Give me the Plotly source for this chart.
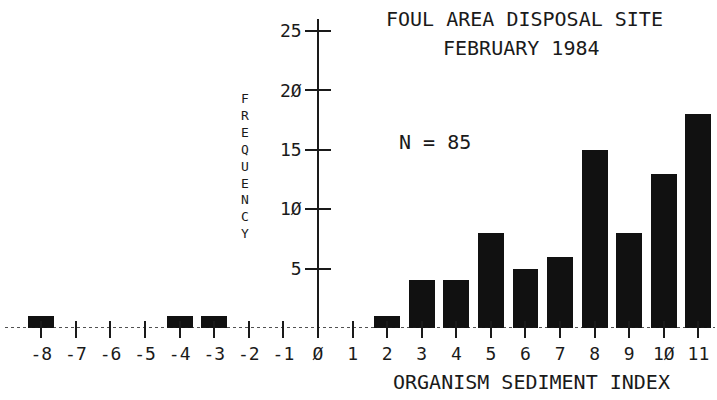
import plotly.graph_objects as go

# ---- data ----
index_values = [-8, -4, -3, 2, 3, 4, 5, 6, 7, 8, 9, 10, 11]
frequency = [1, 1, 1, 1, 4, 4, 8, 5, 6, 15, 8, 13, 18]
x_ticks = list(range(-8, 12))
x_tick_labels = ["-8", "-7", "-6", "-5", "-4", "-3", "-2", "-1", "Ø",
                 "1", "2", "3", "4", "5", "6", "7", "8", "9", "1Ø", "11"]
y_ticks = [5, 10, 15, 20, 25]
y_tick_labels = ["5", "1Ø", "15", "2Ø", "25"]
title_lines = ["FOUL AREA DISPOSAL SITE", "FEBRUARY 1984"]
n_label = "N = 85"
x_title = "ORGANISM SEDIMENT INDEX"
y_title = "FREQUENCY"

FONT = "DejaVu Sans Mono"
INK = "#1a1a1a"
x_range = [-9.05, 11.48]
y_range = [0, 26]
yaxis_pos = (0 - x_range[0]) / (x_range[1] - x_range[0])
plot_h = 400 - 19 - 72
xaxis_pos = 8 / plot_h  # lift x axis so outside ticks cross the baseline

fig = go.Figure()
fig.add_trace(go.Bar(x=index_values, y=frequency, width=0.75,
                     marker=dict(color="#111111", line=dict(width=0)),
                     xaxis="x", yaxis="y", showlegend=False, hoverinfo="skip"))
# transparent copy to activate overlay y axis (for cross-shaped ticks)
fig.add_trace(go.Bar(x=index_values, y=frequency, width=0.75, opacity=0,
                     xaxis="x", yaxis="y2", showlegend=False, hoverinfo="skip"))

axis_font = dict(family=FONT, size=18, color=INK)
fig.update_layout(
    width=717, height=400,
    margin=dict(l=5, r=2, t=19, b=72),
    paper_bgcolor="white", plot_bgcolor="white",
    bargap=0, barmode="overlay",
    xaxis=dict(range=x_range, tickvals=x_ticks, ticktext=x_tick_labels,
               anchor="free", position=xaxis_pos,
               ticks="outside", ticklen=17, tickwidth=1.5, tickcolor=INK,
               showline=False, showgrid=False, zeroline=False,
               tickfont=axis_font, ticklabelstandoff=0),
    yaxis=dict(range=y_range, tickvals=y_ticks, ticktext=y_tick_labels,
               anchor="free", position=yaxis_pos,
               ticks="outside", ticklen=12, tickwidth=1.5, tickcolor=INK,
               showline=True, linecolor=INK, linewidth=1.5,
               showgrid=False, zeroline=False, tickfont=axis_font,
               ticklabelstandoff=0),
    yaxis2=dict(range=y_range, tickvals=y_ticks, anchor="free", position=yaxis_pos,
                overlaying="y", ticks="inside", ticklen=12, tickwidth=1.5,
                tickcolor=INK, showticklabels=False, showline=False,
                showgrid=False, zeroline=False),
)

# dotted baseline
fig.add_shape(type="line", xref="paper", yref="y", x0=0, x1=1, y0=0, y1=0,
              line=dict(color=INK, width=1.5, dash="dot"))

big = dict(family=FONT, size=20, color=INK)
fig.add_annotation(text=title_lines[0], xref="paper", yref="paper", x=0.732, y=1.0,
                   showarrow=False, font=big, xanchor="center", yanchor="middle")
fig.add_annotation(text=title_lines[1], xref="paper", yref="paper", x=0.728, y=0.906,
                   showarrow=False, font=big, xanchor="center", yanchor="middle")
fig.add_annotation(text=n_label, xref="paper", yref="paper", x=0.606, y=0.602,
                   showarrow=False, font=big, xanchor="center", yanchor="middle")
fig.add_annotation(text=x_title, xref="paper", yref="paper", x=0.741, y=-0.175,
                   showarrow=False, font=big, xanchor="center", yanchor="middle")
fig.add_annotation(text="<br>".join(y_title), xref="paper", yref="paper",
                   x=0.338, y=0.524, showarrow=False,
                   font=dict(family=FONT, size=13, color=INK),
                   xanchor="center", yanchor="middle")

fig.write_html("out.html")
